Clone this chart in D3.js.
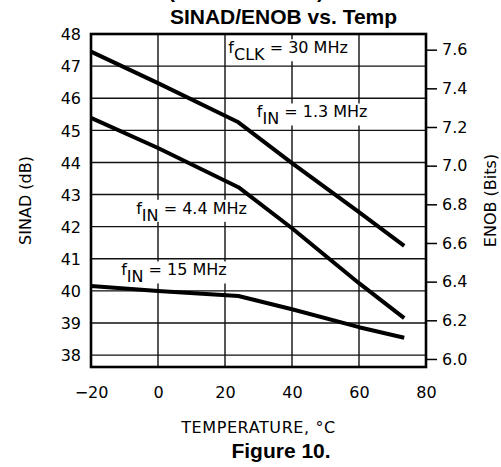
<!DOCTYPE html>
<html>
<head>
<meta charset="utf-8">
<script src="https://cdn.jsdelivr.net/npm/d3@7"></script>
<style>
  html, body { margin: 0; padding: 0; background: #fff; }
  svg { display: block; }
  .tick text { font-family: "DejaVu Sans", sans-serif; font-size: 16px; fill: #000; }
</style>
</head>
<body>
<svg id="chart" width="501" height="467"></svg>
<script>
// ---- data ----
const temps = [-20, 0, 24, 40, 60, 73.5];
const sinad13 = [47.45, 46.47, 45.25, 43.98, 42.45, 41.4];
const sinad44 = [45.39, 44.45, 43.23, 41.95, 40.24, 39.15];
const sinad15 = [40.15, 40.0, 39.84, 39.43, 38.87, 38.54];
const xTicks = [-20, 0, 20, 40, 60, 80];
const yTicks = [38, 39, 40, 41, 42, 43, 44, 45, 46, 47, 48];
const enobTicks = [6.0, 6.2, 6.4, 6.6, 6.8, 7.0, 7.2, 7.4, 7.6];
const labels = [
  { main: "f", sub: "CLK", rest: " = 30 MHz", t: 21, v: 47.4 },
  { main: "f", sub: "IN", rest: " = 1.3 MHz", t: 29.5, v: 45.4 },
  { main: "f", sub: "IN", rest: " = 4.4 MHz", t: -6.5, v: 42.4 },
  { main: "f", sub: "IN", rest: " = 15 MHz", t: -11, v: 40.48 }
];

const svg = d3.select("#chart");
const L = 91, R = 426, T = 34, B = 367;
const x = d3.scaleLinear().domain([-20, 80]).range([L, R]);
const y = d3.scaleLinear().domain([37.63, 48]).range([B, T]);
const toEnob = s => (s - 1.76) / 6.02;
const yR = d3.scaleLinear().domain([toEnob(37.63), toEnob(48)]).range([B, T]);

// gridlines
const g = svg.append("g");
g.selectAll("line.v").data(xTicks).join("line")
  .attr("x1", d => x(d)).attr("x2", d => x(d)).attr("y1", T).attr("y2", B)
  .attr("stroke", "#111").attr("stroke-width", 1.4);
g.selectAll("line.h").data(yTicks.filter(d => d < 48)).join("line")
  .attr("x1", L).attr("x2", R).attr("y1", d => y(d)).attr("y2", d => y(d))
  .attr("stroke", "#111").attr("stroke-width", 1.4);

// curves
const line = d3.line().x((d, i) => x(temps[i])).y(d => y(d));
[sinad13, sinad44, sinad15].forEach(s => {
  svg.append("path").attr("d", line(s)).attr("fill", "none")
    .attr("stroke", "#000").attr("stroke-width", 4).attr("stroke-linejoin", "round");
});

// annotation labels with white backgrounds
labels.forEach(lb => {
  const gl = svg.append("g");
  const bg = gl.append("rect").attr("fill", "#fff");
  const t = gl.append("text").attr("x", x(lb.t)).attr("y", y(lb.v))
    .style("font-family", "DejaVu Sans, sans-serif").style("font-size", "16px");
  t.append("tspan").text(lb.main);
  t.append("tspan").attr("dy", 7).text(lb.sub);
  t.append("tspan").attr("dy", -7).text(lb.rest);
  const bb = t.node().getBBox();
  bg.attr("x", bb.x - 2).attr("y", bb.y + 1).attr("width", bb.width + 4).attr("height", bb.height - 4);
});

// frame
svg.append("rect").attr("x", L).attr("y", T).attr("width", R - L).attr("height", B - T)
  .attr("fill", "none").attr("stroke", "#000").attr("stroke-width", 2.6);

// axes
const ax = svg.append("g").attr("transform", `translate(0,${B})`)
  .call(d3.axisBottom(x).tickValues(xTicks).tickSize(0).tickPadding(20).tickFormat(d3.format("d")));
ax.select(".domain").remove();

const ay = svg.append("g").attr("transform", `translate(${L},0)`)
  .call(d3.axisLeft(y).tickValues(yTicks).tickSize(0).tickPadding(10));
ay.select(".domain").remove();
ay.selectAll(".tick text").attr("dy", "0.36em");

const ar = svg.append("g").attr("transform", `translate(${R},0)`)
  .call(d3.axisRight(yR).tickValues(enobTicks).tickSize(11).tickPadding(5).tickFormat(d3.format(".1f")));
ar.select(".domain").remove();
ar.selectAll(".tick line").attr("stroke", "#000").attr("stroke-width", 1.5);

// axis titles
svg.append("text").attr("x", (L + R) / 2).attr("y", 433).attr("text-anchor", "middle")
  .style("font-family", "DejaVu Sans, sans-serif").style("font-size", "16px").style("letter-spacing", "0.6px")
  .text("TEMPERATURE, °C");
svg.append("text").attr("transform", `translate(31,${(T + B) / 2}) rotate(-90)`).attr("text-anchor", "middle")
  .style("font-family", "DejaVu Sans, sans-serif").style("font-size", "16px")
  .text("SINAD (dB)");
svg.append("text").attr("transform", `translate(496,${(T + B) / 2}) rotate(-90)`).attr("text-anchor", "middle")
  .style("font-family", "DejaVu Sans, sans-serif").style("font-size", "16px")
  .text("ENOB (Bits)");

// titles
svg.append("text").attr("x", 168).attr("y", -2).attr("textLength", 156).attr("lengthAdjust", "spacing")
  .style("font-family", "Liberation Sans, Arial, sans-serif").style("font-size", "21px").style("font-weight", "bold")
  .text("(Continued)");
svg.append("text").attr("x", 283.5).attr("y", 24).attr("text-anchor", "middle")
  .style("font-family", "Liberation Sans, Arial, sans-serif").style("font-size", "21px").style("font-weight", "bold")
  .text("SINAD/ENOB vs. Temp");
svg.append("text").attr("x", 281).attr("y", 458).attr("text-anchor", "middle")
  .style("font-family", "Liberation Sans, Arial, sans-serif").style("font-size", "21px").style("font-weight", "bold")
  .text("Figure 10.");
</script>
</body>
</html>
